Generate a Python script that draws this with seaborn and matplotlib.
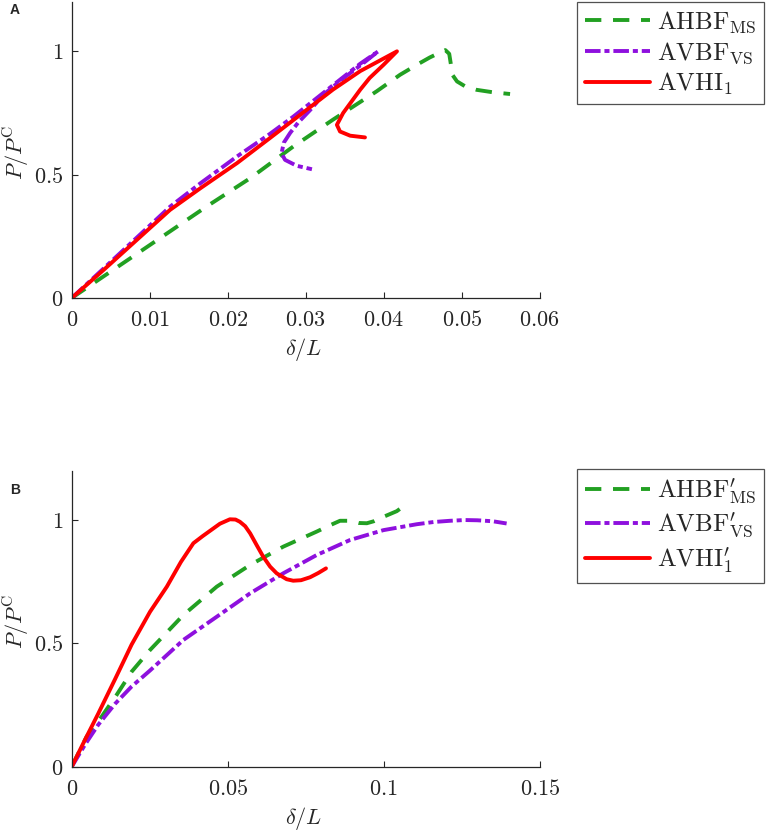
import matplotlib
matplotlib.use("Agg")
import matplotlib.pyplot as plt
import seaborn as sns
import numpy as np

sns.set_style("ticks")
plt.rcParams['mathtext.fontset'] = 'cm'
plt.rcParams['font.family'] = ['DejaVu Sans']
plt.rcParams['axes.edgecolor'] = '#262626'
plt.rcParams['xtick.color'] = '#262626'
plt.rcParams['ytick.color'] = '#262626'
plt.rcParams['xtick.direction'] = 'in'
plt.rcParams['ytick.direction'] = 'in'

# ---------------- Panel A data ----------------
a_green_x = [0, 0.0034, 0.0126, 0.0173, 0.0229, 0.0284, 0.0335, 0.0391, 0.0421, 0.0445, 0.0459, 0.0472, 0.0479,
             0.0484, 0.0486, 0.0488, 0.0494, 0.0505, 0.0519, 0.0540, 0.0562]
a_green_y = [0, 0.073, 0.270, 0.371, 0.486, 0.614, 0.723, 0.838, 0.905, 0.950, 0.975, 0.995, 1.005,
             0.990, 0.950, 0.905, 0.878, 0.857, 0.844, 0.834, 0.827]

a_purple_x = [0, 0.0041, 0.0126, 0.0165, 0.0212, 0.0254, 0.0284, 0.0318, 0.0348, 0.0370, 0.0393,
              0.0375, 0.0348, 0.0323, 0.0306, 0.0290, 0.0280, 0.0272, 0.0269, 0.02735, 0.02885, 0.0308]
a_purple_y = [0, 0.120, 0.370, 0.465, 0.574, 0.665, 0.735, 0.820, 0.895, 0.950, 1.0,
              0.955, 0.890, 0.825, 0.763, 0.710, 0.669, 0.630, 0.587, 0.560, 0.536, 0.522]

a_red_x = [0, 0.0041, 0.0126, 0.0165, 0.0212, 0.0254, 0.0335, 0.0370, 0.0417,
           0.0400, 0.0382, 0.0370, 0.0348, 0.0340, 0.0344, 0.0357, 0.0376]
a_red_y = [0, 0.114, 0.357, 0.445, 0.547, 0.648, 0.845, 0.920, 1.0,
           0.946, 0.892, 0.845, 0.750, 0.702, 0.675, 0.658, 0.651]

a_xticks = [0, 0.01, 0.02, 0.03, 0.04, 0.05, 0.06]
a_xlabels = ['$0$', '$0.01$', '$0.02$', '$0.03$', '$0.04$', '$0.05$', '$0.06$']

# ---------------- Panel B data ----------------
b_green_x = [0, 0.0048, 0.0096, 0.0144, 0.0192, 0.0251, 0.0358, 0.0465, 0.0572, 0.0678,
             0.0785, 0.0830, 0.0860, 0.0892, 0.0920, 0.0946, 0.0968, 0.0988, 0.1042, 0.1079]
b_green_y = [0, 0.122, 0.203, 0.291, 0.385, 0.473, 0.615, 0.730, 0.818, 0.892,
             0.953, 0.980, 0.997, 0.997, 0.988, 0.987, 0.995, 1.007, 1.036, 1.070]

b_purple_x = [0, 0.0043, 0.0085, 0.0139, 0.0192, 0.0251, 0.0358, 0.0465, 0.0572, 0.0678,
              0.0785, 0.0892, 0.0999, 0.1106, 0.1160, 0.1213, 0.1260, 0.1300, 0.1350, 0.1394]
b_purple_y = [0, 0.090, 0.170, 0.255, 0.325, 0.390, 0.514, 0.608, 0.703, 0.784,
              0.858, 0.919, 0.959, 0.983, 0.992, 0.997, 1.0, 0.999, 0.995, 0.986]

b_red_x = [0, 0.0043, 0.0085, 0.0139, 0.0192, 0.0251, 0.0305, 0.0350, 0.0390, 0.0420, 0.0475,
           0.0507, 0.0525, 0.0539, 0.0556, 0.0572, 0.0593, 0.0614, 0.0636, 0.0657, 0.0689,
           0.0710, 0.0735, 0.0764, 0.0790, 0.0815]
b_red_y = [0, 0.110, 0.215, 0.355, 0.495, 0.628, 0.730, 0.830, 0.906, 0.935, 0.985,
           1.003, 1.002, 0.993, 0.975, 0.946, 0.898, 0.851, 0.811, 0.784, 0.760,
           0.754, 0.756, 0.768, 0.785, 0.804]

b_xticks = [0, 0.05, 0.1, 0.15]
b_xlabels = ['$0$', '$0.05$', '$0.1$', '$0.15$']

yticks = [0, 0.5, 1]
ylabels = ['$0$', '$0.5$', '$1$']

labels_a = [r'$\mathrm{AHBF}_{\mathrm{MS}}$', r'$\mathrm{AVBF}_{\mathrm{VS}}$', r'$\mathrm{AVHI}_{1}$']
labels_b = [r"$\mathrm{AHBF}^{\prime}_{\mathrm{MS}}$", r"$\mathrm{AVBF}^{\prime}_{\mathrm{VS}}$",
            r"$\mathrm{AVHI}^{\prime}_{1}$"]

GREEN = '#22A022'
PURPLE = '#8E10DE'
RED = '#FF0000'
LW = 2.8

W, H = 768, 832
fig = plt.figure(figsize=(W / 100, H / 100), dpi=100)

def make_axes(top_px, bottom_px):
    left = 71.7 / W
    width = 468 / W
    return fig.add_axes([left, 1 - bottom_px / H, width, (bottom_px - top_px) / H])

ax_a = make_axes(2, 298)
ax_b = make_axes(470.7, 766.7)

def draw(ax, gx, gy, px, py, rx, ry, labels, xmax, xticks, xlabels):
    sns.lineplot(x=gx, y=gy, sort=False, estimator=None, ax=ax, color=GREEN, lw=LW, label=labels[0])
    ax.lines[-1].set_dashes([4.2, 3.0])
    sns.lineplot(x=px, y=py, sort=False, estimator=None, ax=ax, color=PURPLE, lw=LW, label=labels[1])
    ax.lines[-1].set_dashes([4.0, 1.0, 1.3, 1.0])
    sns.lineplot(x=rx, y=ry, sort=False, estimator=None, ax=ax, color=RED, lw=LW, label=labels[2])
    ax.set_xlim(0, xmax)
    ax.set_ylim(0, 1.2)
    ax.set_xticks(xticks)
    ax.set_xticklabels(xlabels, fontsize=16)
    ax.set_yticks(yticks)
    ax.set_yticklabels(ylabels, fontsize=16)
    ax.tick_params(length=4.5, width=0.8)
    ax.tick_params(axis='x', pad=9)
    ax.tick_params(axis='y', pad=6)
    for s in ['top', 'right']:
        ax.spines[s].set_visible(False)
    for s in ['left', 'bottom']:
        ax.spines[s].set_linewidth(0.9)
    ax.set_xlabel(r'$\delta/L$', fontsize=16)
    ax.set_ylabel(r'$P/P^{\mathrm{C}}$', fontsize=16)
    ax.xaxis.set_label_coords(0.495, -0.128)
    ax.yaxis.set_label_coords(-0.085, 0.49)
    ax.get_legend().remove()

draw(ax_a, a_green_x, a_green_y, a_purple_x, a_purple_y, a_red_x, a_red_y, labels_a, 0.06, a_xticks, a_xlabels)
draw(ax_b, b_green_x, b_green_y, b_purple_x, b_purple_y, b_red_x, b_red_y, labels_b, 0.15, b_xticks, b_xlabels)

def legend(ax, top_px):
    h, l = ax.get_legend_handles_labels()
    leg = fig.legend(h, l, loc='upper left', bbox_to_anchor=(577 / W, 1 - top_px / H),
                     bbox_transform=fig.transFigure, fontsize=18, frameon=True,
                     fancybox=False, edgecolor='#262626', handlelength=2.6,
                     handletextpad=0.3, labelspacing=0.2, borderpad=0.3, borderaxespad=0)
    leg.get_frame().set_linewidth(0.9)

legend(ax_a, 2)
legend(ax_b, 469)

fig.text(10 / W, 1 - 10 / H, 'A', fontsize=10, fontweight='bold', family='Liberation Sans', va='center', ha='left')
fig.text(10 / W, 1 - 490 / H, 'B', fontsize=10, fontweight='bold', family='Liberation Sans', va='center', ha='left')

fig.savefig('out.png', dpi=100)
